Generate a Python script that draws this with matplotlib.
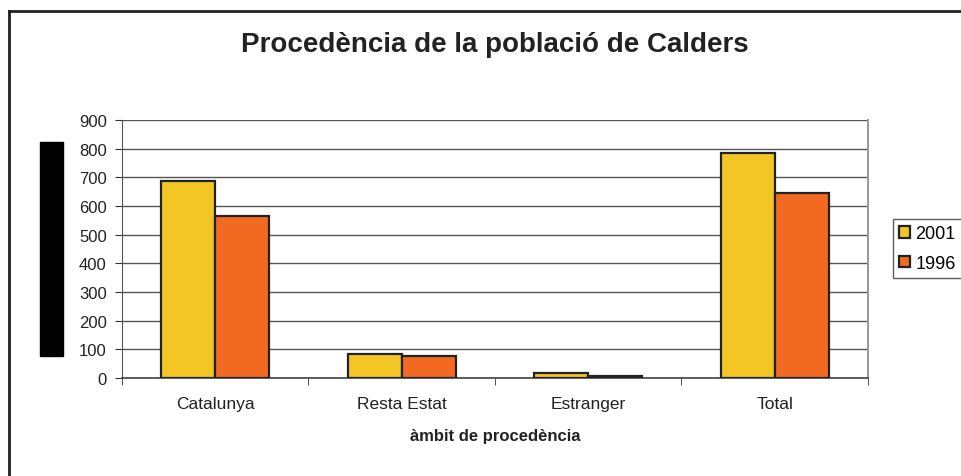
import numpy as np
import matplotlib
matplotlib.use('Agg')
import matplotlib.pyplot as plt
from matplotlib.lines import Line2D
from matplotlib.patches import Rectangle

plt.rcParams['font.family'] = ['Liberation Sans', 'DejaVu Sans']

categories = ['Catalunya', 'Resta Estat', 'Estranger', 'Total']
series_names = ['2001', '1996']
values_2001 = [687, 84, 18, 786]
values_1996 = [565, 77, 8, 646]
y_ticks = [0, 100, 200, 300, 400, 500, 600, 700, 800, 900]

YELLOW = '#F3C626'
ORANGE = '#F26922'
EDGE = '#222222'

fig = plt.figure(figsize=(9.62, 4.77), dpi=100)
ax = fig.add_axes([122 / 962, 1 - 379 / 477, 746 / 962, 258 / 477])

x = np.arange(len(categories))
w = 0.29
ax.bar(x - w / 2, values_2001, w, color=YELLOW, edgecolor=EDGE, linewidth=1.6,
       label=series_names[0], zorder=3)
ax.bar(x + w / 2, values_1996, w, color=ORANGE, edgecolor=EDGE, linewidth=1.6,
       label=series_names[1], zorder=3)

ax.set_xlim(-0.5, len(categories) - 0.5)
ax.set_ylim(0, 900)
ax.set_yticks(y_ticks)
ax.set_yticklabels([str(v) for v in y_ticks], fontsize=12, color='#222222')
ax.yaxis.grid(True, color='#555555', linewidth=1.0, zorder=0)
ax.set_axisbelow(True)

# category labels centred, tick marks on the boundaries
ax.set_xticks(x)
ax.set_xticklabels(categories, fontsize=12.5, color='#222222')
ax.tick_params(axis='x', which='major', length=0, pad=13)
ax.set_xticks(np.arange(len(categories) + 1) - 0.5, minor=True)
ax.tick_params(axis='x', which='minor', length=5, color='#333333', direction='out')
ax.tick_params(axis='y', length=5, color='#333333', direction='out', pad=6)

ax.spines['top'].set_visible(False)
ax.spines['right'].set_color('#999999')
ax.spines['right'].set_linewidth(1.5)
ax.spines['left'].set_color('#555555')
ax.spines['bottom'].set_color('#444444')
ax.spines['bottom'].set_linewidth(1.2)

ax.set_xlabel('àmbit de procedència', fontsize=12, fontweight='bold',
              color='#222222', labelpad=12)

fig.text(495 / 962, 1 - 45 / 477, 'Procedència de la població de Calders',
         ha='center', va='center', fontsize=20, fontweight='bold', color='#222222')

leg = fig.legend(loc='upper left', bbox_to_anchor=(893 / 962, 1 - 220 / 477),
                 bbox_transform=fig.transFigure, fontsize=13, frameon=True,
                 fancybox=False, edgecolor='#333333', handlelength=0.6,
                 handleheight=0.6, handletextpad=0.3, borderpad=0.35,
                 labelspacing=0.7, borderaxespad=0)
leg.get_frame().set_linewidth(1.0)

# black block at the left of the axis
fig.patches.append(Rectangle((40 / 962, 1 - 357 / 477), 23 / 962, 214 / 477,
                             transform=fig.transFigure, color='black', zorder=5))

# outer chart frame (top and left edges visible)
fig.lines.append(Line2D([9 / 962, 9 / 962], [0, 1 - 12 / 477],
                        transform=fig.transFigure, color='#222222', linewidth=2))
fig.lines.append(Line2D([9 / 962, 1], [1 - 12 / 477, 1 - 12 / 477],
                        transform=fig.transFigure, color='#222222', linewidth=2))

fig.savefig('out.png', dpi=100)
